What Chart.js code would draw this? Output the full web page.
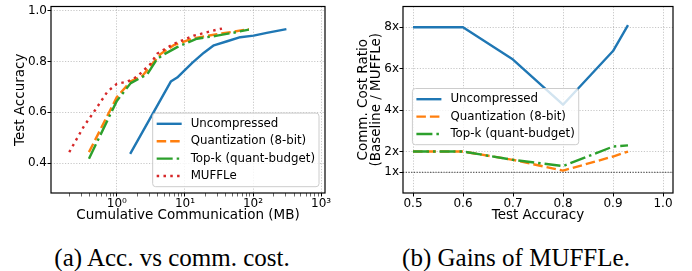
<!DOCTYPE html>
<html>
<head>
<meta charset="utf-8">
<script src="https://cdn.jsdelivr.net/npm/chart.js@4/dist/chart.umd.min.js"></script>
<style>
body { margin: 0; background: #fff; width: 692px; height: 271px; overflow: hidden; position: relative; }
canvas { position: absolute; top: 0; }
#accChart { left: 0; }
#gainChart { left: 340px; }
.cap { position: absolute; top: 245px; font-family: "Liberation Serif", "Times New Roman", serif; font-size: 25px; line-height: 25px; white-space: nowrap; transform: translateX(-50%); color: #000; }
</style>
</head>
<body>
<canvas id="accChart" width="340" height="230"></canvas>
<canvas id="gainChart" width="352" height="230"></canvas>
<div class="cap" style="left:172px">(a) Acc. vs comm. cost.</div>
<div class="cap" style="left:516px">(b) Gains of MUFFLe.</div>
<script>
// (a) test accuracy against cumulative communication (MB)
var commUncompressed = [1.57, 6.2, 7.7, 12.8, 19, 26.6, 41.7, 65, 102, 159, 309];
var accUncompressed  = [0.436, 0.721, 0.737, 0.795, 0.835, 0.864, 0.88, 0.896, 0.902, 0.913, 0.928];
var commQuant = [0.39, 1.0, 1.6, 2.4, 3.3, 4.4, 6.9, 13.5, 29.7, 50, 87];
var accQuant  = [0.443, 0.66, 0.722, 0.745, 0.79, 0.83, 0.865, 0.892, 0.908, 0.917, 0.928];
var commTopk = [0.39, 1.0, 1.6, 2.8, 3.9, 4.9, 7.7, 15, 29.7, 50, 87];
var accTopk  = [0.417, 0.645, 0.715, 0.75, 0.81, 0.828, 0.857, 0.89, 0.902, 0.913, 0.926];
var commMuffle = [0.2, 0.33, 0.47, 0.73, 1.0, 1.43, 2.0, 3.15, 3.9, 6.9, 13.5, 29.7, 35];
var accMuffle  = [0.443, 0.546, 0.605, 0.682, 0.712, 0.721, 0.741, 0.792, 0.831, 0.87, 0.902, 0.926, 0.93];

var commTicks = [1, 10, 100, 1000];
var commTickLabels = ['10\u2070', '10\u00b9', '10\u00b2', '10\u00b3'];
var accTicks = [0.4, 0.6, 0.8, 1.0];

// (b) cost ratio baseline / MUFFLe at each accuracy level
var accLevels = [0.5, 0.6, 0.7, 0.8, 0.9, 0.93];
var ratioUncompressed = [8, 8, 6.44, 4.26, 6.85, 8.1];
var ratioQuant = [2, 2, 1.6, 1.08, 1.76, 2.0];
var ratioTopk = [2, 2, 1.6, 1.3, 2.24, 2.3];

var accLevelTicks = [0.5, 0.6, 0.7, 0.8, 0.9, 1.0];
var ratioTicks = [1, 2, 4, 6, 8];
var ratioTickLabels = ['1x', '2x', '4x', '6x', '8x'];
var parityRatio = 1;

Chart.defaults.font.family = "'DejaVu Sans', sans-serif";
Chart.defaults.color = '#000';

function pts(xs, ys) {
    return xs.map(function(x, i) { return {x: x, y: ys[i]}; });
}

var GRID = 'rgba(0,0,0,0.28)';

// black box round the plot area
var axesFrame = {
    id: 'axesFrame',
    afterDraw: function(chart) {
        var a = chart.chartArea, ctx = chart.ctx;
        ctx.save();
        ctx.strokeStyle = '#000';
        ctx.lineWidth = 1.2;
        ctx.strokeRect(a.left, a.top, a.right - a.left, a.bottom - a.top);
        ctx.restore();
    }
};

// matplotlib-like legend inside the axes
var boxLegend = {
    id: 'boxLegend',
    afterDatasetsDraw: function(chart, args, opts) {
        var ctx = chart.ctx, a = chart.chartArea;
        var sets = chart.data.datasets;
        ctx.save();
        ctx.font = "11.8px 'DejaVu Sans'";
        var textW = Math.max.apply(null, sets.map(function(d) { return ctx.measureText(d.label).width; }));
        var w = 38 + textW + 4, h = sets.length * 17.4 + 4;
        var x = opts.right != null ? a.right - opts.right - w : a.left + opts.left;
        var y = opts.bottom != null ? a.bottom - opts.bottom - h : a.top + opts.top;
        ctx.beginPath();
        if (ctx.roundRect) ctx.roundRect(x, y, w, h, 3); else ctx.rect(x, y, w, h);
        ctx.fillStyle = 'rgba(255,255,255,0.8)';
        ctx.fill();
        ctx.strokeStyle = '#cccccc';
        ctx.lineWidth = 1;
        ctx.stroke();
        sets.forEach(function(d, i) {
            var cy = y + 10.7 + i * 17.4;
            ctx.beginPath();
            ctx.setLineDash(d.borderDash || []);
            ctx.strokeStyle = d.borderColor;
            ctx.lineWidth = d.borderWidth;
            ctx.moveTo(x + 4, cy);
            ctx.lineTo(x + 29, cy);
            ctx.stroke();
            ctx.setLineDash([]);
            ctx.fillStyle = '#000';
            ctx.textBaseline = 'middle';
            ctx.fillText(d.label, x + 38, cy);
        });
        ctx.restore();
    }
};

// dotted reference line at ratio 1
var parityLine = {
    id: 'parityLine',
    beforeDatasetsDraw: function(chart, args, opts) {
        var a = chart.chartArea, ctx = chart.ctx;
        var y = chart.scales.y.getPixelForValue(opts.value);
        ctx.save();
        ctx.strokeStyle = '#222';
        ctx.lineWidth = 0.9;
        ctx.setLineDash([1.2, 1.5]);
        ctx.beginPath();
        ctx.moveTo(a.left, y);
        ctx.lineTo(a.right, y);
        ctx.stroke();
        ctx.restore();
    }
};

function lineSet(label, data, color, dash, order) {
    return {
        label: label, data: data, borderColor: color, backgroundColor: color,
        borderDash: dash, borderWidth: 2.4, pointRadius: 0, tension: 0,
        fill: false, order: order, borderJoinStyle: 'round'
    };
}

function isMajor(v) {
    return commTicks.some(function(t) { return Math.abs(t - v) < 1e-9 * t; });
}

var tickFont = {size: 12, lineHeight: 1};
var titleFont = {size: 13.5};

new Chart(document.getElementById('accChart').getContext('2d'), {
    type: 'line',
    data: {
        datasets: [
            lineSet('Uncompressed', pts(commUncompressed, accUncompressed), '#1f77b4', [], 4),
            lineSet('Quantization (8-bit)', pts(commQuant, accQuant), '#ff7f0e', [9.5, 4], 3),
            lineSet('Top-k (quant-budget)', pts(commTopk, accTopk), '#2ca02c', [16, 4, 2.5, 4], 2),
            lineSet('MUFFLe', pts(commMuffle, accMuffle), '#d62728', [2.5, 4.3], 1)
        ]
    },
    options: {
        responsive: false,
        animation: false,
        layout: {padding: {top: 4, right: 15, left: 0, bottom: 0}},
        plugins: {
            legend: {display: false},
            tooltip: {enabled: false},
            boxLegend: {right: 6, bottom: 6.3}
        },
        scales: {
            x: {
                type: 'logarithmic', min: 0.108, max: 1140, bounds: 'data',
                afterBuildTicks: function(s) {
                    var out = [];
                    for (var d = -1; d <= 3; d++) {
                        for (var m = 1; m <= 9; m++) {
                            var v = m === 1 ? (d < 0 ? 0.1 : commTicks[d]) : m * Math.pow(10, d);
                            if (v >= s.min && v <= s.max) out.push({value: v});
                        }
                    }
                    s.ticks = out;
                },
                afterFit: function(s) { s.height = 37; },
                ticks: {
                    autoSkip: false, maxRotation: 0, font: tickFont, padding: 1,
                    callback: function(v) {
                        var i = commTicks.findIndex(function(t) { return Math.abs(t - v) < 1e-9 * t; });
                        return i >= 0 ? commTickLabels[i] : '';
                    }
                },
                grid: {
                    color: function(c) { return c.tick && isMajor(c.tick.value) ? GRID : 'rgba(0,0,0,0)'; },
                    lineWidth: 0.8, tickLength: 3.5, tickColor: '#000',
                    tickWidth: function(c) { return c.tick && isMajor(c.tick.value) ? 1 : 0.6; },
                    tickBorderDash: [], borderDash: [1.2, 1.6]
                },
                border: {display: false, dash: [1.2, 1.6]},
                title: {display: true, text: 'Cumulative Communication (MB)', font: titleFont, padding: {top: 0, bottom: 6.9}}
            },
            y: {
                type: 'linear', min: 0.282, max: 1.017,
                afterBuildTicks: function(s) { s.ticks = accTicks.map(function(v) { return {value: v}; }); },
                afterFit: function(s) { s.width = 51; },
                ticks: {autoSkip: false, font: tickFont, padding: 0.5, callback: function(v) { return v.toFixed(1); }},
                grid: {color: GRID, lineWidth: 0.8, tickLength: 3.5, tickColor: '#000', tickWidth: 1, tickBorderDash: [], borderDash: [1.2, 1.6]},
                border: {display: false, dash: [1.2, 1.6]},
                title: {display: true, text: 'Test Accuracy', font: titleFont, padding: {top: 12.5, bottom: 0}}
            }
        }
    },
    plugins: [axesFrame, boxLegend]
});

new Chart(document.getElementById('gainChart').getContext('2d'), {
    type: 'line',
    data: {
        datasets: [
            lineSet('Uncompressed', pts(accLevels, ratioUncompressed), '#1f77b4', [], 3),
            lineSet('Quantization (8-bit)', pts(accLevels, ratioQuant), '#ff7f0e', [9.5, 4], 2),
            lineSet('Top-k (quant-budget)', pts(accLevels, ratioTopk), '#2ca02c', [16, 4, 2.5, 4], 1)
        ]
    },
    options: {
        responsive: false,
        animation: false,
        layout: {padding: {top: 4, right: 19, left: 0, bottom: 0}},
        plugins: {
            legend: {display: false},
            tooltip: {enabled: false},
            boxLegend: {left: 9.4, top: 82},
            parityLine: {value: parityRatio}
        },
        scales: {
            x: {
                type: 'linear', min: 0.48, max: 1.02,
                afterBuildTicks: function(s) { s.ticks = accLevelTicks.map(function(v) { return {value: v}; }); },
                afterFit: function(s) { s.height = 37; },
                ticks: {autoSkip: false, maxRotation: 0, font: tickFont, padding: 1, callback: function(v) { return v.toFixed(1); }},
                grid: {color: GRID, lineWidth: 0.8, tickLength: 3.5, tickColor: '#000', tickWidth: 1, tickBorderDash: [], borderDash: [1.2, 1.6]},
                border: {display: false, dash: [1.2, 1.6]},
                title: {display: true, text: 'Test Accuracy', font: titleFont, padding: {top: 0, bottom: 6.9}}
            },
            y: {
                type: 'linear', min: 0, max: 9,
                afterBuildTicks: function(s) { s.ticks = ratioTicks.map(function(v) { return {value: v}; }); },
                afterFit: function(s) { s.width = 63; },
                ticks: {
                    autoSkip: false, font: tickFont, padding: 0.5,
                    callback: function(v) { return ratioTickLabels[ratioTicks.indexOf(v)]; }
                },
                grid: {color: GRID, lineWidth: 0.8, tickLength: 3.5, tickColor: '#000', tickWidth: 1, tickBorderDash: [], borderDash: [1.2, 1.6]},
                border: {display: false, dash: [1.2, 1.6]},
                title: {
                    display: true, text: ['Comm. Cost Ratio', '(Baseline / MUFFLe)'],
                    font: {size: 13.5, lineHeight: 1.0}, padding: {top: 16.5, bottom: 0}
                }
            }
        }
    },
    plugins: [axesFrame, boxLegend, parityLine]
});
</script>
</body>
</html>
